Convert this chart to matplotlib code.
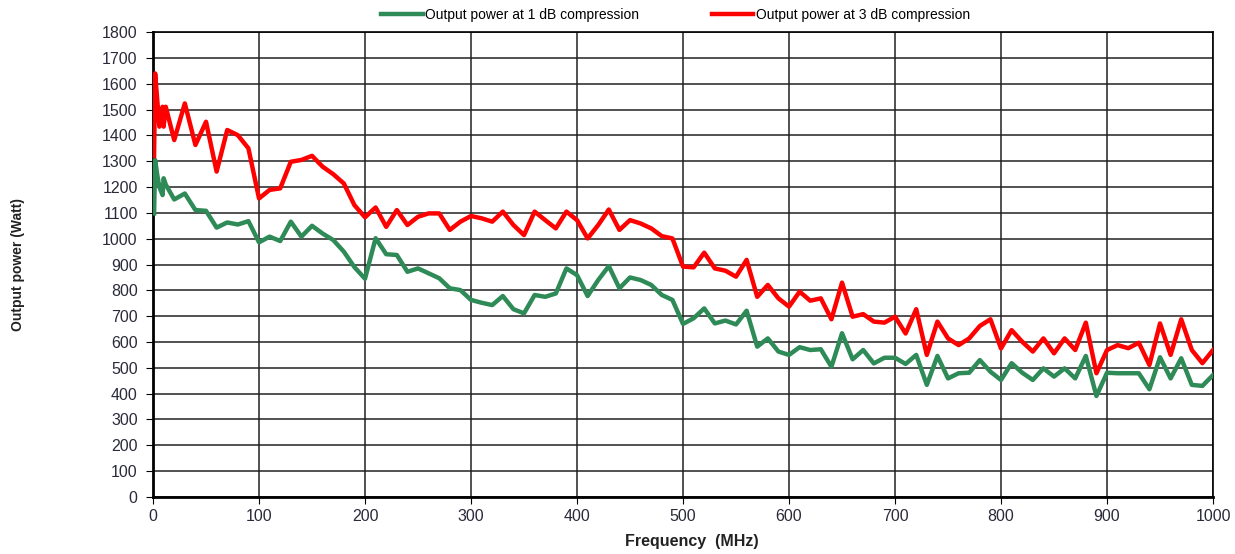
import numpy as np
import matplotlib.pyplot as plt

plt.rcParams['font.family'] = ['Liberation Sans', 'DejaVu Sans']

# frequencies in MHz
freq = [1, 2, 4, 6, 9, 10, 12] + list(range(20, 1001, 10))

p3db = [1320, 1640, 1537, 1434, 1511, 1434, 1511,
        1382, 1524, 1363, 1453, 1260, 1421, 1401, 1350, 1156, 1189,
        1195, 1298, 1305, 1321, 1279, 1250, 1214, 1130, 1083, 1121,
        1046, 1111, 1053, 1085, 1098, 1098, 1034, 1066, 1088, 1079,
        1066, 1105, 1053, 1014, 1105, 1072, 1040, 1105, 1072, 1001,
        1053, 1113, 1034, 1072, 1059, 1040, 1010, 1001, 892, 889,
        946, 885, 876, 853, 918, 775, 821, 769, 737, 795,
        760, 769, 688, 830, 698, 708, 679, 675, 698, 633,
        727, 550, 679, 614, 588, 614, 662, 688, 575, 646,
        601, 563, 614, 556, 614, 569, 675, 479, 569, 588,
        576, 597, 511, 672, 550, 688, 569, 518, 569]

p1db = [1098, 1305, 1247, 1200, 1169, 1234, 1210,
        1152, 1175, 1111, 1108, 1043, 1063, 1055, 1068, 986, 1008,
        991, 1066, 1008, 1050, 1020, 995, 950, 890, 845, 1002,
        940, 937, 872, 885, 866, 847, 808, 801, 763, 752,
        743, 778, 727, 711, 782, 775, 788, 885, 859, 778,
        840, 894, 808, 850, 840, 821, 782, 763, 670, 692,
        730, 672, 683, 668, 721, 582, 614, 563, 550, 580,
        569, 572, 504, 634, 533, 569, 517, 539, 539, 515,
        550, 434, 546, 459, 479, 481, 530, 485, 453, 518,
        481, 453, 498, 466, 498, 459, 546, 391, 481, 479,
        479, 479, 417, 541, 459, 537, 434, 430, 472]

fig = plt.figure(figsize=(12.35, 5.54), dpi=100)
ax = fig.add_axes([0.1239, 0.103, 0.8583, 0.839])

ax.plot(freq, p1db, color='#2e8b57', lw=3.2, label='Output power at 1 dB compression', zorder=3)
ax.plot(freq, p3db, color='#ff0000', lw=3.2, label='Output power at 3 dB compression', zorder=3)

ax.set_xlim(0, 1000)
ax.set_ylim(0, 1800)
ax.set_xticks(np.arange(0, 1001, 100))
ax.set_yticks(np.arange(0, 1801, 100))
ax.grid(True, color='#222222', lw=1.1)
ax.tick_params(labelsize=11.5, length=5, color='black', labelcolor='#2a2a3a')
ax.tick_params(axis='y', pad=6)
for s in ax.spines.values():
    s.set_color('black')
    s.set_linewidth(1.2)
ax.spines['left'].set_linewidth(2)
ax.spines['bottom'].set_linewidth(2)

ax.set_xlabel('Frequency  (MHz)', fontsize=11.5, fontweight='bold', color='#222222')
ax.xaxis.set_label_coords(0.508, -0.08)
ax.set_ylabel('Output power (Watt)', fontsize=10, fontweight='bold', color='#222222')
ax.yaxis.set_label_coords(-0.121, 0.5)

fig.legend(loc='center', bbox_to_anchor=(0.547, 0.973), ncol=2, frameon=False,
           fontsize=10, handlelength=3.0, handletextpad=0.2, columnspacing=5.2)

fig.savefig('out.png', dpi=100)
